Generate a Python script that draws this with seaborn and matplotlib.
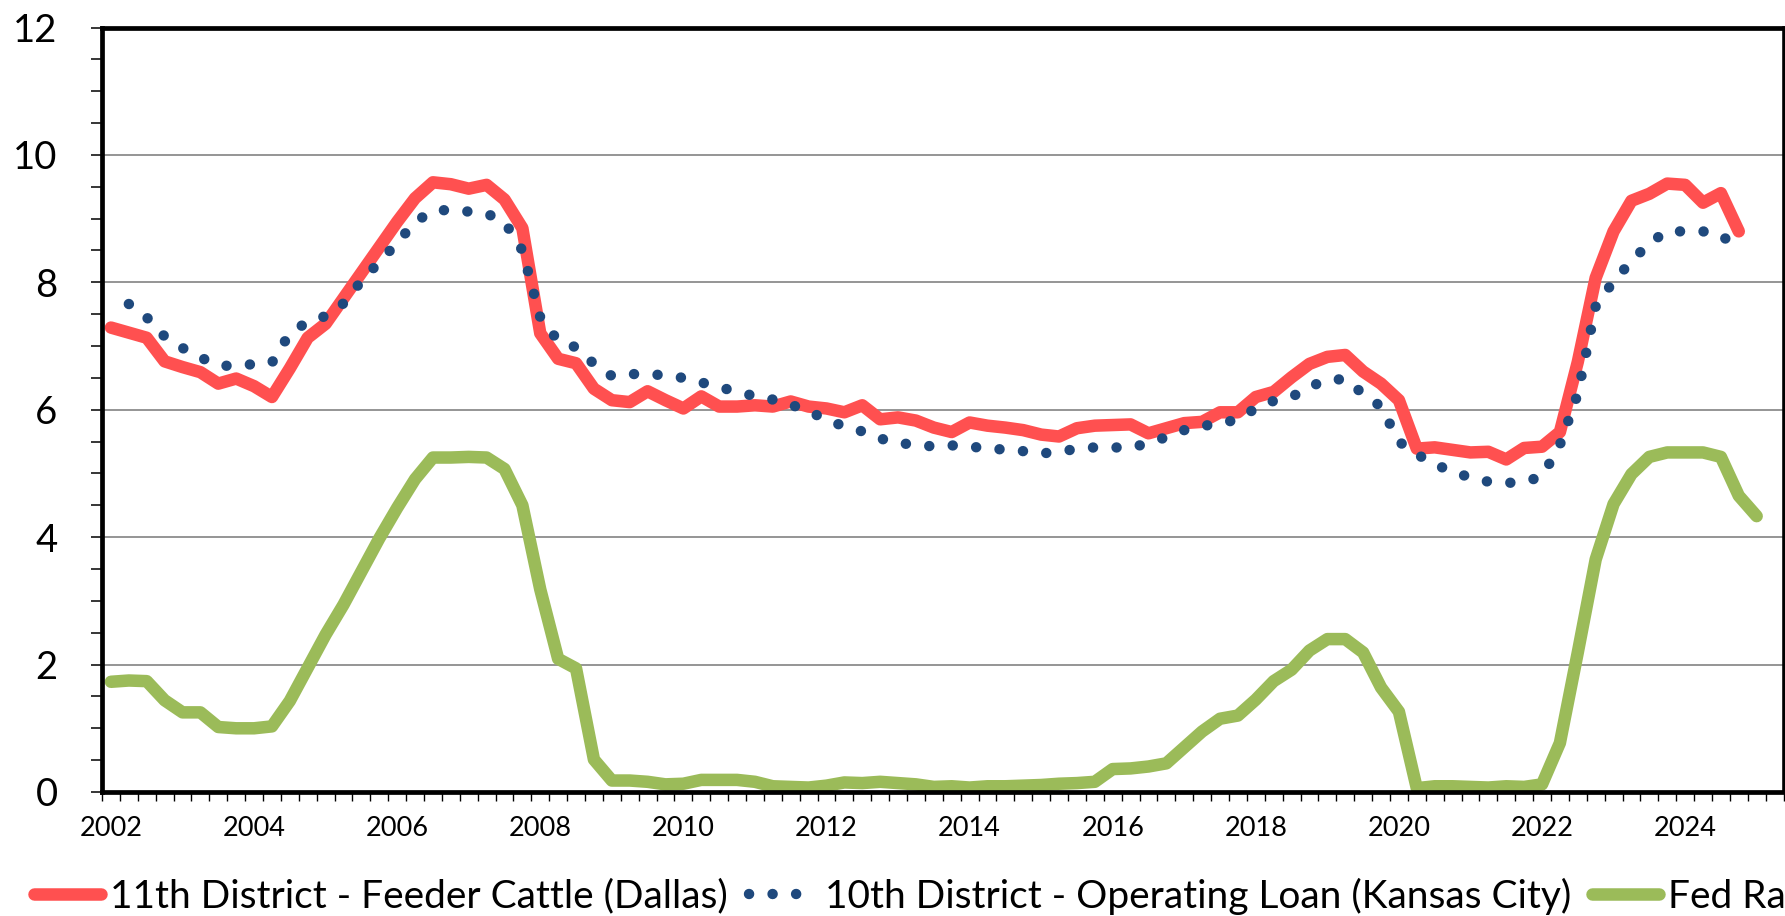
import numpy as np
import pandas as pd
import matplotlib
matplotlib.use("Agg")
import matplotlib.pyplot as plt
import seaborn as sns

# ---------------- data (quarterly, starting 2002 Q1) ----------------
start_year = 2002
year_labels = ["2002", "2004", "2006", "2008", "2010", "2012",
               "2014", "2016", "2018", "2020", "2022", "2024"]

dallas_cattle = [
    7.29, 7.21, 7.13, 6.76, 6.67, 6.59, 6.41, 6.49, 6.37, 6.20,
    6.65, 7.13, 7.35, 7.75, 8.15, 8.55, 8.95, 9.32, 9.57, 9.54,
    9.47, 9.53, 9.30, 8.85, 7.20, 6.80, 6.73, 6.33, 6.15, 6.12,
    6.29, 6.15, 6.02, 6.21, 6.05, 6.05, 6.07, 6.05, 6.13, 6.05,
    6.02, 5.96, 6.07, 5.85, 5.88, 5.83, 5.72, 5.65, 5.80, 5.75,
    5.72, 5.68, 5.61, 5.58, 5.71, 5.75, 5.76, 5.77, 5.63, 5.71,
    5.79, 5.81, 5.96, 5.96, 6.20, 6.28, 6.51, 6.72, 6.83, 6.86,
    6.60, 6.41, 6.15, 5.39, 5.41, 5.37, 5.33, 5.34, 5.22, 5.40,
    5.42, 5.65, 6.75, 8.07, 8.80, 9.28, 9.39, 9.55, 9.53, 9.25,
    9.40, 8.80,
]

kc_operating = [
    np.nan, 7.66, 7.45, 7.15, 6.97, 6.82, 6.70, 6.68, 6.72, 6.74,
    7.20, 7.38, 7.47, 7.67, 8.02, 8.32, 8.62, 8.95, 9.12, 9.14,
    9.11, 9.08, 8.95, 8.50, 7.45, 7.08, 6.98, 6.72, 6.53, 6.56,
    6.56, 6.54, 6.50, 6.43, 6.35, 6.29, 6.21, 6.16, 6.08, 5.98,
    5.84, 5.74, 5.66, 5.55, 5.47, 5.46, 5.42, 5.44, 5.43, 5.38,
    5.38, 5.35, 5.31, 5.35, 5.38, 5.41, 5.41, 5.40, 5.48, 5.57,
    5.68, 5.75, 5.77, 5.86, 6.02, 6.14, 6.20, 6.36, 6.47, 6.48,
    6.25, 6.05, 5.50, 5.30, 5.15, 5.02, 4.94, 4.87, 4.85, 4.87,
    4.95, 5.45, 6.25, 7.62, 8.02, 8.33, 8.62, 8.80, 8.80, 8.80,
    8.75, 8.50,
]

fed_rate = [
    1.73, 1.75, 1.74, 1.44, 1.25, 1.25, 1.02, 1.00, 1.00, 1.03,
    1.43, 1.95, 2.47, 2.94, 3.46, 3.98, 4.46, 4.91, 5.25, 5.25,
    5.26, 5.25, 5.07, 4.50, 3.18, 2.09, 1.94, 0.51, 0.18, 0.18,
    0.16, 0.12, 0.13, 0.19, 0.19, 0.19, 0.16, 0.09, 0.08, 0.07,
    0.10, 0.15, 0.14, 0.16, 0.14, 0.12, 0.08, 0.09, 0.07, 0.09,
    0.09, 0.10, 0.11, 0.13, 0.14, 0.16, 0.36, 0.37, 0.40, 0.45,
    0.70, 0.95, 1.15, 1.20, 1.45, 1.74, 1.92, 2.22, 2.40, 2.40,
    2.19, 1.64, 1.26, 0.06, 0.09, 0.09, 0.08, 0.07, 0.09, 0.08,
    0.12, 0.77, 2.19, 3.65, 4.52, 4.99, 5.26, 5.33, 5.33, 5.33,
    5.26, 4.65, 4.33,
]

series_names = ["11th District - Feeder Cattle (Dallas)",
                "10th District - Operating Loan (Kansas City)",
                "Fed Rate"]

# ---------------- figure ----------------
sns.set_theme(style="white")
plt.rcParams["font.family"] = ["Lato", "DejaVu Sans"]

W, H, DPI = 1785, 916, 100
fig = plt.figure(figsize=(W / DPI, H / DPI), dpi=DPI)
ax = fig.add_axes([102 / W, 1 - 792 / H, (1783.5 - 102) / W, (792 - 27.5) / H])

red = "#FF5050"
blue = "#1F497D"
green = "#9BBB59"

df_red = pd.DataFrame({"q": np.arange(len(dallas_cattle)), "v": dallas_cattle})
df_blue = pd.DataFrame({"q": np.arange(len(kc_operating)), "v": kc_operating}).dropna()
df_green = pd.DataFrame({"q": np.arange(len(fed_rate)), "v": fed_rate})

sns.lineplot(data=df_red, x="q", y="v", ax=ax, color=red, lw=9,
             solid_joinstyle="round", solid_capstyle="round",
             label=series_names[0], estimator=None, sort=False, zorder=3)
sns.lineplot(data=df_blue, x="q", y="v", ax=ax, color=blue, lw=7.5,
             linestyle=(0, (0.01, 2.25)), dash_capstyle="round",
             label=series_names[1], estimator=None, sort=False, zorder=4)
sns.lineplot(data=df_green, x="q", y="v", ax=ax, color=green, lw=9,
             solid_joinstyle="round", solid_capstyle="round",
             label=series_names[2], estimator=None, sort=False, zorder=3)

n_cat = 94
ax.set_xlim(-0.5, 93.4)
ax.set_ylim(0, 12)

# y axis
ax.set_yticks(np.arange(0, 12.01, 2))
ax.set_yticklabels([str(int(v)) for v in np.arange(0, 12.01, 2)])
ax.set_yticks(np.arange(0, 12.01, 0.5), minor=True)
ax.tick_params(axis="y", which="both", direction="out", length=8, width=1.1,
               color="black", left=True, labelsize=27.5, pad=24, labelcolor="black")

# x axis: labels every 8 quarters, tick marks between quarters
ax.set_xticks(np.arange(0, 8 * len(year_labels), 8))
ax.set_xticklabels(year_labels)
ax.set_xticks(np.arange(-0.5, n_cat, 1), minor=True)
ax.tick_params(axis="x", which="major", length=0, labelsize=19.5, pad=17,
               labelcolor="black")
ax.tick_params(axis="x", which="minor", direction="out", length=6.5, width=1.0,
               color="black", bottom=True)

ax.set_xlabel("")
ax.set_ylabel("")

# gridlines
ax.grid(False)
for v in [2, 4, 6, 8, 10]:
    ax.axhline(v, color="#8C8C8C", lw=1.3, zorder=1)

for s in ax.spines.values():
    s.set_visible(True)
    s.set_color("black")
    s.set_linewidth(3.4)
    s.set_zorder(5)
ax.spines["right"].set_linewidth(2.6)

# legend
ax.get_legend().remove()
handles, labels = ax.get_legend_handles_labels()
leg = fig.legend(handles, labels, loc="center left",
                 bbox_to_anchor=(34 / W, 1 - 896 / H), ncol=3, frameon=False,
                 fontsize=28, handlelength=1.72, handletextpad=0.23,
                 columnspacing=0.55, borderpad=0, borderaxespad=0)
for t in leg.get_texts():
    t.set_color("black")

fig.savefig("out.png", dpi=DPI)
